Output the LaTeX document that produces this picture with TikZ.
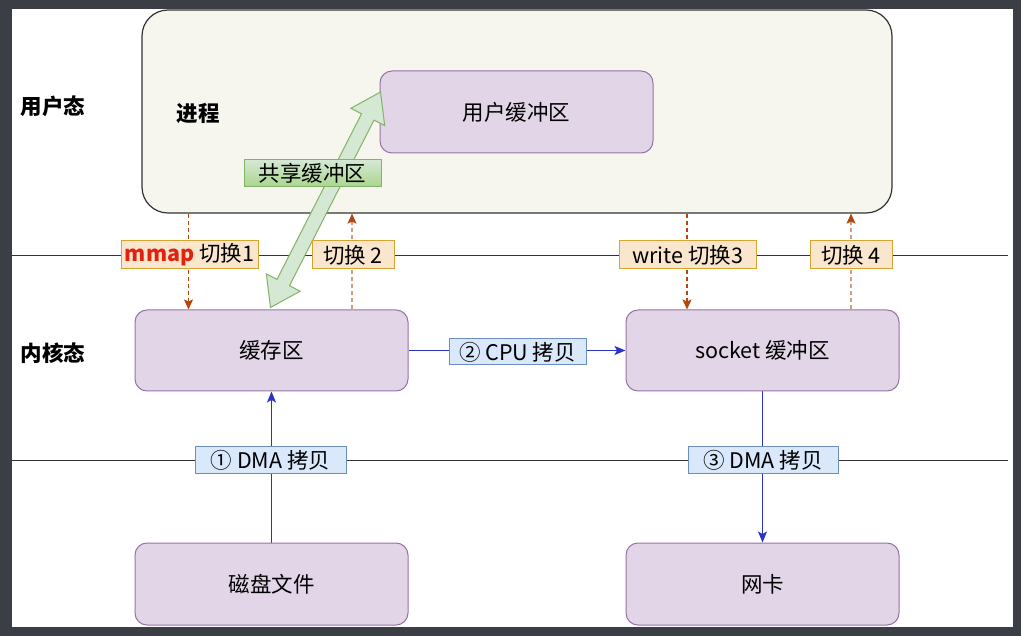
\documentclass[tikz,border=0pt]{standalone}
\usepackage{fontspec}
\setmainfont{Noto Sans CJK SC}
\usetikzlibrary{calc,arrows.meta}
\pgfdeclarelayer{back}
\pgfdeclarelayer{bg}
\pgfsetlayers{back,bg,main}
\definecolor{frame}{HTML}{3B3E44}
\definecolor{procfill}{HTML}{F6F6EE}
\definecolor{procline}{HTML}{333333}
\definecolor{pfill}{HTML}{E1D5E7}
\definecolor{pline}{HTML}{9673A6}
\definecolor{gfill}{HTML}{D5E8D4}
\definecolor{gfill2}{HTML}{A9D58C}
\definecolor{gline}{HTML}{82B366}
\definecolor{ofill}{HTML}{F9E6CC}
\definecolor{oline}{HTML}{D6A531}
\definecolor{bfill}{HTML}{DAE8FC}
\definecolor{bline}{HTML}{6C8EBF}
\definecolor{blue1}{HTML}{2B33C4}
\definecolor{brn}{HTML}{B4470B}
\definecolor{brnlight}{HTML}{D39C7D}
\definecolor{mmapred}{HTML}{E0220E}
\begin{document}
\begin{tikzpicture}[x=1pt,y=-1pt,
  every node/.style={font=\fontsize{21.5}{25}\selectfont, inner sep=0pt, text=black},
  pbox/.style={draw=pline, fill=pfill, line width=1pt, rounded corners=12pt, minimum width=273pt, minimum height=81pt},
  procbox/.style={draw=procline, fill=procfill, line width=1.2pt, rounded corners=26pt, minimum width=750pt, minimum height=203pt},
  swbox/.style={draw=oline, fill=ofill, line width=1pt, minimum height=28pt},
  cpbox/.style={draw=bline, fill=bfill, line width=1pt, minimum height=26pt},
  sharebox/.style={draw=gline, top color=gfill, bottom color=gfill2, line width=1pt, minimum width=137pt, minimum height=27pt},
  dashline/.style={dash pattern=on 4pt off 3pt, line width=1.2pt},
  dtip/.style={-{Stealth[length=10pt,width=9pt,inset=2pt,color=brn]}},
  bluearrow/.style={draw=blue1, line width=1.2pt, -{Stealth[length=11pt,width=9pt,inset=2.5pt]}},
  plainline/.style={draw=procline, line width=0.8pt},
  bold/.style={font=\fontsize{21.5}{25}\selectfont\bfseries}
]
\useasboundingbox (0,0) rectangle (1021,636);
\begin{pgfonlayer}{back}
\fill[frame] (0,0) rectangle (1021,636);
\fill[white] (12,9) rectangle (1013,627);
\end{pgfonlayer}

% side labels
\node[bold] (ulabel) at (53,106) {用户态};
\node[bold] (klabel) at (53,353) {内核态};

% process box
\node[procbox] (proc) at (517,111.5) {};
\node[bold] (plabel) at (198,113) {进程};
\node[pbox, minimum height=82pt] (ubuf) at (516.5,112) {用户缓冲区};

% kernel boxes
\node[pbox] (cache) at (271.5,350.5) {缓存区};
\node[pbox] (sock) at (762.5,350.5) {socket 缓冲区};
\node[pbox, minimum height=82pt] (disk) at (271.5,584) {磁盘文件};
\node[pbox, minimum height=82pt] (nic) at (762.5,584) {网卡};

% shared-buffer flex arrow
\coordinate (fa) at ($(cache.north)+(-1,-2)$);
\coordinate (fb) at ($(ubuf.west)+(1,-20)$);
\coordinate (fa1) at ($(fa)!28pt!(fb)$);
\coordinate (fb1) at ($(fb)!28pt!(fa)$);
\filldraw[fill=gfill, draw=gline, line width=1pt, line join=miter]
  (fa) -- ($(fa1)!19pt!90:(fb)$) -- ($(fa1)!7pt!90:(fb)$) -- ($(fb1)!7pt!-90:(fa)$)
  -- ($(fb1)!19pt!-90:(fa)$) -- (fb) -- ($(fb1)!19pt!90:(fa)$) -- ($(fb1)!7pt!90:(fa)$)
  -- ($(fa1)!7pt!-90:(fb)$) -- ($(fa1)!19pt!-90:(fb)$) -- cycle;
\node[sharebox] (share) at (312.5,173.5) {共享缓冲区};

% switch labels
\node[swbox, minimum width=137pt] (sw1) at (189.5,255) {\textcolor{mmapred}{\bfseries mmap} 切换1};
\node[swbox, minimum width=82pt] (sw2) at (353,255) {切换 2};
\node[swbox, minimum width=137pt] (sw3) at (687.5,255) {write 切换3};
\node[swbox, minimum width=82pt] (sw4) at (851,255) {切换 4};

% copy labels
\node[cpbox, minimum width=137pt] (cpu) at (517.5,352) {② CPU 拷贝};
\node[cpbox, minimum width=151pt] (dma1) at (270.5,460) {① DMA 拷贝};
\node[cpbox, minimum width=150pt] (dma3) at (763,460) {③ DMA 拷贝};

\coordinate (h1l) at (12,255);
\coordinate (h1r) at (1008,255);
\coordinate (h2l) at (12,460);
\coordinate (h2r) at (1008,460);

\begin{pgfonlayer}{bg}
\draw[plainline] (h1l) -- (h1r);
\draw[plainline] (h2l) -- (h2r);
\draw[dashline, draw=brn, dtip] ($(proc.south -| sw1)+(-1,0)$) -- ($(cache.north -| sw1)+(-1,0)$);
\draw[dashline, draw=brnlight, dtip] ($(cache.north -| sw2)+(-1,0)$) -- ($(proc.south -| sw2)+(-1,0)$);
\draw[dashline, draw=brn, dtip] ($(proc.south -| sw3)+(-0.5,0)$) -- ($(sock.north -| sw3)+(-0.5,0)$);
\draw[dashline, draw=brnlight, dtip] (sock.north -| sw4) -- (proc.south -| sw4);
\draw[bluearrow] (cache.east) -- (sock.west);
\draw[bluearrow] (disk.north) -- (cache.south);
\draw[bluearrow] (sock.south) -- (nic.north);
\end{pgfonlayer}
\end{tikzpicture}
\end{document}
